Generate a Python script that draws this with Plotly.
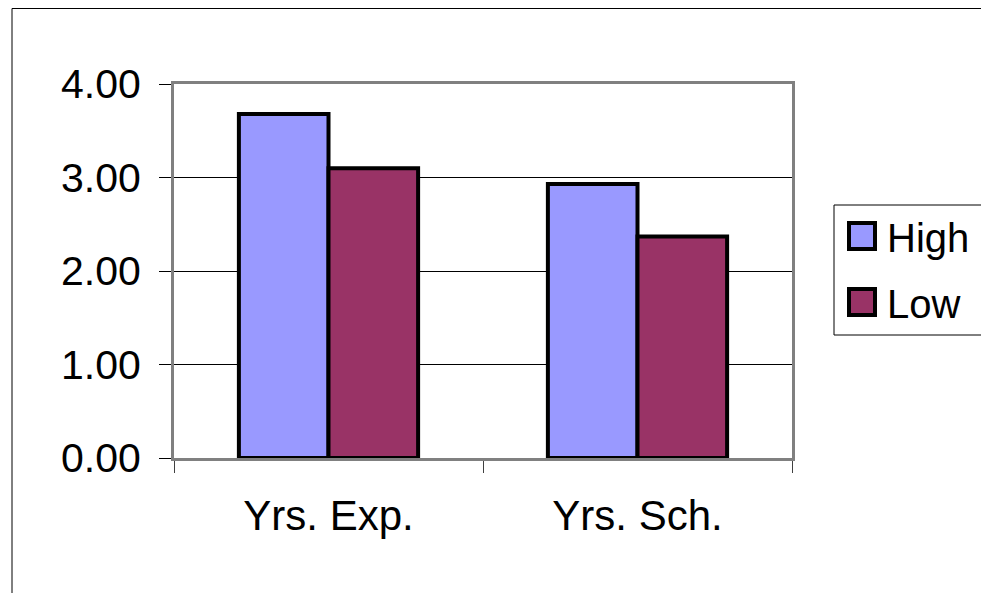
import plotly.graph_objects as go

categories = ["Yrs. Exp.", "Yrs. Sch."]
series_names = ["High", "Low"]
high_values = [3.68, 2.93]
low_values = [3.10, 2.37]
series_colors = ["#9999FF", "#993366"]
y_ticks = [0, 1, 2, 3, 4]
y_tick_labels = ["0.00", "1.00", "2.00", "3.00", "4.00"]

FONT = "Liberation Sans, Arial, sans-serif"

# figure geometry (page body has an 8px margin)
W, H = 981, 585
L, R, T, B = 166, 197, 76, 135
PW, PH = W - L - R, H - T - B


def px(xf):
    return (xf - L) / PW


def py(yf):
    return (H - B - yf) / PH


fig = go.Figure()
for name, vals, col in zip(series_names, [high_values, low_values], series_colors):
    fig.add_trace(go.Bar(name=name, x=categories, y=vals,
                         marker=dict(color=col, line=dict(color="black", width=4))))

shapes = [
    # outer chart border
    dict(type="rect", xref="paper", yref="paper",
         x0=px(4), x1=px(995), y0=py(600), y1=py(0.5),
         line=dict(color="black", width=1), layer="below"),
    # legend box
    dict(type="rect", xref="paper", yref="paper",
         x0=px(826), x1=px(995), y0=py(327), y1=py(197),
         line=dict(color="black", width=1), fillcolor="white", layer="below"),
]
annotations = []
swatch_tops = [214, 280]
for name, col, top in zip(series_names, series_colors, swatch_tops):
    shapes.append(dict(type="rect", xref="paper", yref="paper",
                       x0=px(841), x1=px(867), y0=py(top + 27), y1=py(top + 1),
                       line=dict(color="black", width=4), fillcolor=col))
    annotations.append(dict(text=name, xref="paper", yref="paper",
                            x=px(877), y=py(top + 16), xanchor="left", yanchor="middle",
                            showarrow=False, font=dict(size=40, family=FONT, color="black")))

fig.update_layout(
    width=W, height=H,
    margin=dict(l=L, r=R, t=T, b=B),
    paper_bgcolor="white", plot_bgcolor="white",
    barmode="group", bargap=0.42, bargroupgap=0,
    font=dict(family=FONT, size=41, color="black"),
    showlegend=False,
    xaxis=dict(showline=True, linecolor="#808080", linewidth=3, mirror=True,
               ticks="outside", tickson="boundaries", ticklen=12, tickcolor="#404040",
               tickwidth=1, showgrid=False, tickfont=dict(size=42),
               ticklabelstandoff=19),
    yaxis=dict(range=[0, 4], tickvals=y_ticks, ticktext=y_tick_labels,
               showline=True, linecolor="#808080", linewidth=3, mirror=True,
               ticks="outside", ticklen=12, tickcolor="black", tickwidth=1,
               showgrid=True, gridcolor="black", gridwidth=1, zeroline=False,
               ticklabelstandoff=10, tickfont=dict(size=41)),
    shapes=shapes,
    annotations=annotations,
)

fig.write_html("out.html")
